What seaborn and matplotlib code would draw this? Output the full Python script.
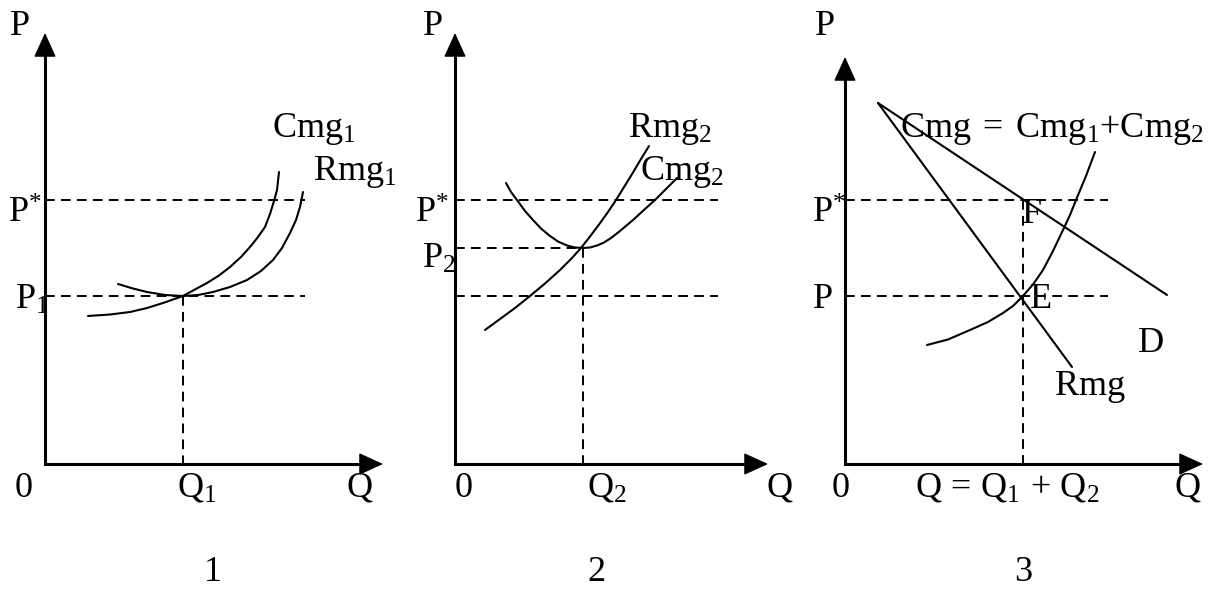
import matplotlib
matplotlib.use("Agg")
import matplotlib.pyplot as plt
import seaborn as sns

# ---------------- data (Q, P units) ----------------
# Panel 1 - firm 1
p_star = 26.4
p1_level = 16.8
q1_level = 13.8
cmg1_q = [4.3, 6.5, 8.5, 10.2, 11.8, 13.8, 14.9, 16.2, 17.4, 18.5, 19.6, 20.5, 21.3,
          22.0, 22.5, 22.9, 23.2, 23.4]
cmg1_p = [14.8, 14.95, 15.2, 15.6, 16.1, 16.8, 17.4, 18.1, 18.85, 19.7, 20.7, 21.7, 22.7,
          23.7, 25.0, 26.3, 27.4, 29.2]
rmg1_q = [7.3, 8.8, 10.2, 12.0, 13.8, 15.3, 16.8, 18.5, 20.2, 21.6, 22.8, 23.7, 24.5,
          25.1, 25.5, 25.7, 25.8]
rmg1_p = [18.0, 17.55, 17.2, 16.9, 16.8, 16.9, 17.2, 17.7, 18.4, 19.3, 20.4, 21.6, 23.1,
          24.4, 25.7, 26.7, 27.2]

# Panel 2 - firm 2
p2_level = 21.6
q2_level = 12.8
rmg2_q = [3.0, 4.5, 6.0, 7.5, 9.0, 10.5, 11.7, 12.6, 13.5, 14.4, 15.3, 16.1, 17.0,
          17.8, 18.6, 19.4]
rmg2_p = [13.4, 14.5, 15.6, 16.8, 18.05, 19.4, 20.6, 21.6, 22.75, 23.95, 25.2, 26.4,
          27.85, 29.15, 30.5, 31.8]
cmg2_q = [5.1, 5.6, 6.2, 7.0, 7.8, 8.6, 9.5, 10.3, 11.2, 12.0, 12.8, 13.5, 14.2, 14.9,
          15.6, 16.5, 17.8, 19.0, 20.0, 21.1, 22.2]
cmg2_p = [28.1, 27.2, 26.4, 25.3, 24.4, 23.55, 22.8, 22.25, 21.85, 21.65, 21.6, 21.65,
          21.85, 22.15, 22.6, 23.3, 24.4, 25.5, 26.4, 27.5, 28.6]

# Panel 3 - joint production
pe_level = 16.8
qe_level = 17.8
d_q = [3.3, 32.2]
d_p = [36.1, 16.9]
rmg_q = [3.3, 22.7]
rmg_p = [36.1, 9.7]
cmg_q = [8.2, 10.3, 12.5, 14.3, 15.8, 16.8, 17.7, 18.8, 19.8, 20.8, 21.8, 22.5, 23.1,
         24.1, 25.0]
cmg_p = [11.9, 12.45, 13.4, 14.2, 15.1, 15.8, 16.7, 17.95, 19.4, 21.3, 23.4, 24.9, 26.4,
         28.8, 31.2]

panel_numbers = ["1", "2", "3"]

# ---------------- style ----------------
sns.set_theme(style="white")
plt.rcParams["font.family"] = ["Liberation Serif", "DejaVu Serif"]
plt.rcParams["mathtext.fontset"] = "custom"
plt.rcParams["mathtext.rm"] = "Liberation Serif"
plt.rcParams["mathtext.it"] = "Liberation Serif:italic"
plt.rcParams["mathtext.default"] = "rm"

FS = 26
CURVE_LW = 1.5
AXIS_LW = 2.2
DASH = (0, (5, 3.2))

fig = plt.figure(figsize=(12.1, 6.03), dpi=100)
W = 1210.0
ylim = (-13.9, 46.4)

ax1 = fig.add_axes([0, 0, 400 / W, 1])
ax2 = fig.add_axes([400 / W, 0, 400 / W, 1])
ax3 = fig.add_axes([800 / W, 0, 410 / W, 1])
ax1.set_xlim(-4.5, 35.5)
ax2.set_xlim(-5.5, 34.5)
ax3.set_xlim(-4.5, 36.5)
for ax in (ax1, ax2, ax3):
    ax.set_ylim(*ylim)
    ax.axis("off")


def curve(ax, q, p, **kw):
    sns.lineplot(x=q, y=p, ax=ax, sort=False, estimator=None, color="black",
                 lw=kw.pop("lw", CURVE_LW), **kw)


def guide_h(ax, level, q_end):
    curve(ax, [0, q_end], [level, level], lw=1.4, linestyle=DASH)


def guide_v(ax, q, top):
    curve(ax, [q, q], [top, 0], lw=1.4, linestyle=DASH)


def axes_frame(ax, x_tip, y_tip):
    ax.plot([0, 0, x_tip - 1.0], [y_tip - 1.0, 0, 0], color="black", lw=AXIS_LW,
            solid_joinstyle="miter", solid_capstyle="butt")
    head = dict(arrowstyle="-|>,head_length=0.7,head_width=0.32", color="black",
                lw=1.0, mutation_scale=22, shrinkA=0, shrinkB=0)
    ax.annotate("", xy=(0, y_tip), xytext=(0, y_tip - 2), arrowprops=head)
    ax.annotate("", xy=(x_tip, 0), xytext=(x_tip - 2, 0), arrowprops=head)


def label(ax, x, y, s, ha="left", size=FS):
    ax.text(x, y, s, ha=ha, va="baseline", fontsize=size, color="black")


# ---------------- panel 1 ----------------
guide_h(ax1, p_star, 26.0)
guide_h(ax1, p1_level, 26.0)
guide_v(ax1, q1_level, p1_level)
curve(ax1, cmg1_q, cmg1_p)
curve(ax1, rmg1_q, rmg1_p)
axes_frame(ax1, 33.8, 43.1)
label(ax1, -3.5, 42.9, "P")
label(ax1, -3.7, 24.1, r"$P^{*}$")
label(ax1, -3.0, 15.5, r"$P_1$")
label(ax1, 22.7, 32.7, r"$Cmg_1$")
label(ax1, 26.8, 28.4, r"$Rmg_1$")
label(ax1, -3.0, -3.3, "0")
label(ax1, 13.2, -3.3, r"$Q_1$")
label(ax1, 30.2, -3.3, "Q")

# ---------------- panel 2 ----------------
guide_h(ax2, p_star, 26.3)
guide_h(ax2, p2_level, q2_level)
guide_h(ax2, p1_level, 26.3)
guide_v(ax2, q2_level, p2_level)
curve(ax2, rmg2_q, rmg2_p)
curve(ax2, cmg2_q, cmg2_p)
axes_frame(ax2, 31.3, 43.1)
label(ax2, -3.2, 42.9, "P")
label(ax2, -4.0, 24.1, r"$P^{*}$")
label(ax2, -3.3, 19.6, r"$P_2$")
label(ax2, 17.3, 32.7, r"$Rmg_2$")
label(ax2, 18.5, 28.4, r"$Cmg_2$")
label(ax2, 0.0, -3.3, "0")
label(ax2, 13.2, -3.3, r"$Q_2$")
label(ax2, 31.2, -3.3, "Q")

# ---------------- panel 3 ----------------
guide_h(ax3, p_star, 26.3)
guide_h(ax3, pe_level, 26.3)
guide_v(ax3, qe_level, p_star)
curve(ax3, d_q, d_p)
curve(ax3, rmg_q, rmg_p)
curve(ax3, cmg_q, cmg_p)
axes_frame(ax3, 35.8, 40.7)
label(ax3, -3.0, 42.9, "P")
label(ax3, -3.3, 24.1, r"$P^{*}$")
label(ax3, -3.2, 15.6, "P")
label(ax3, 17.7, 24.1, "F")
label(ax3, 18.5, 15.6, "E")
label(ax3, 29.3, 11.2, "D")
label(ax3, 21.0, 6.9, "Rmg")
label(ax3, 5.5, 32.7, r"$Cmg\;=\;Cmg_1{+}Cmg_2$")
label(ax3, -1.3, -3.3, "0")
label(ax3, 7.0, -3.3, r"$Q\,=\,Q_1\,+\,Q_2$")
label(ax3, 33.0, -3.3, "Q")

# panel numbers
for ax, q, s in zip((ax1, ax2, ax3), (16.8, 14.1, 17.8), panel_numbers):
    label(ax, q, -11.7, s, ha="center")

fig.savefig("out.png", dpi=100, facecolor="white")
